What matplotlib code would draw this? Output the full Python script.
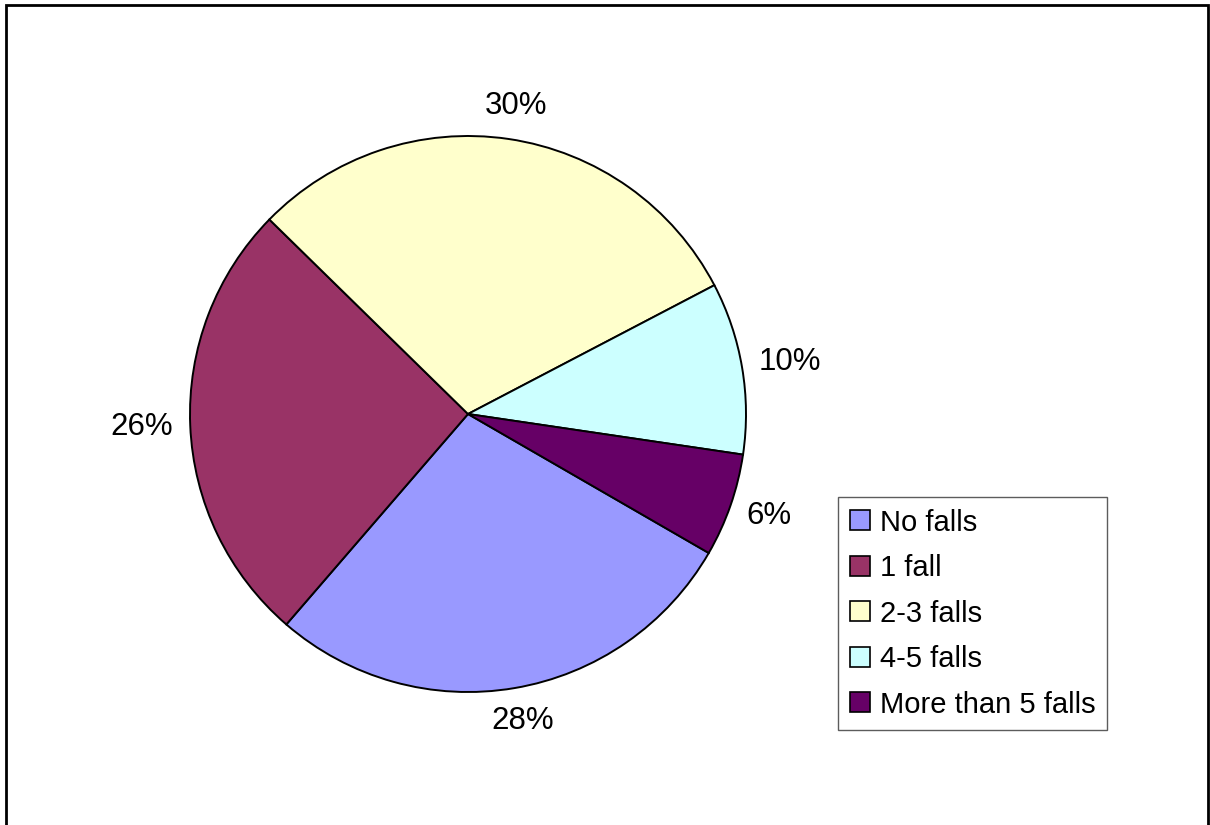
import numpy as np
import matplotlib.pyplot as plt
from matplotlib.patches import Patch, Rectangle

# categories and shares (percent)
categories = ["No falls", "1 fall", "2-3 falls", "4-5 falls", "More than 5 falls"]
shares = [28, 26, 30, 10, 6]
colors = ["#9999FF", "#993366", "#FFFFCC", "#CCFFFF", "#660066"]

plt.rcParams['font.family'] = ['Liberation Sans', 'DejaVu Sans']

W, H = 1210, 825
fig = plt.figure(figsize=(W / 100, H / 100), dpi=100)
ax = fig.add_axes([0, 0, 1, 1])

cx, cy, R = 468, H - 414, 278
wedges, texts = ax.pie(
    shares, colors=colors, startangle=-30, counterclock=False,
    center=(cx, cy), radius=R, frame=True,
    wedgeprops=dict(edgecolor='black', linewidth=1.4))
ax.set_xlim(0, W)
ax.set_ylim(0, H)
ax.axis('off')

# percentage labels placed just outside the pie, Excel style
total = sum(shares)
gap = 21
for w, s in zip(wedges, shares):
    lab = '{:.0f}%'.format(100 * s / total)
    th = np.deg2rad((w.theta1 + w.theta2) / 2)
    half_w = 15 * len(lab) / 2 + 5
    half_h = 12
    x = cx + (R + gap) * np.cos(th) + half_w * np.cos(th)
    y = cy + (R + gap) * np.sin(th) + half_h * np.sin(th)
    ax.text(x, y, lab, fontsize=22.5, ha='center', va='center', color='black')

handles = [Patch(facecolor=c, edgecolor='black', linewidth=1.2) for c in colors]
leg = fig.legend(handles, categories, loc='upper left',
                 bbox_to_anchor=(838 / W, 1 - 497 / H), borderaxespad=0,
                 fontsize=21, frameon=True, fancybox=False, shadow=False,
                 handlelength=0.68, handleheight=0.68, handletextpad=0.35,
                 labelspacing=0.6, borderpad=0.4)
leg.get_frame().set_edgecolor('#333333')
leg.get_frame().set_linewidth(1.0)

# outer chart border
fig.add_artist(Rectangle((6 / W, -0.02), (1208 - 6) / W, 1.02 - 5 / H,
                         transform=fig.transFigure, fill=False,
                         edgecolor='black', linewidth=2))

fig.savefig("out.png", dpi=100, facecolor='white')
